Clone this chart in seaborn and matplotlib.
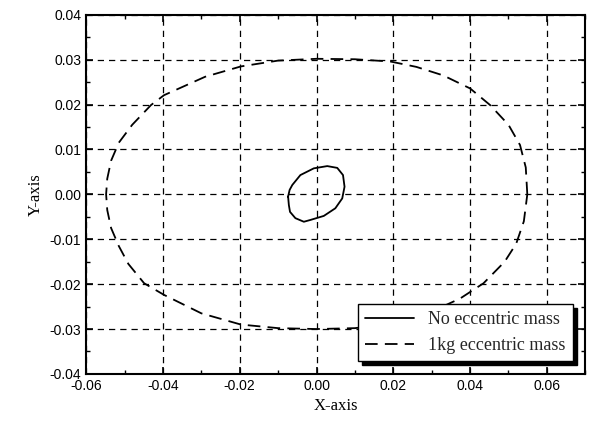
"""Orbit plot: rotor centre trajectory with and without eccentric mass."""

import matplotlib.pyplot as plt
import pandas as pd
import seaborn as sns
from matplotlib.ticker import MultipleLocator

# Small orbit (no eccentric mass)
no_mass_x = [-0.0074, -0.0070, -0.0063, -0.0042, -0.0007, 0.0028, 0.0054, 0.0069, 0.0073,
             0.0067, 0.0049, 0.0019, -0.0016, -0.0033, -0.0055, -0.0069, -0.0072, -0.0074]
no_mass_y = [-0.0005, 0.0010, 0.0021, 0.0043, 0.0058, 0.0063, 0.0059, 0.0043, 0.0017,
             -0.0009, -0.0031, -0.0048, -0.0057, -0.0061, -0.0053, -0.0039, -0.0024, -0.0005]

# Large orbit (1 kg eccentric mass)
mass_x = [0.0549, 0.0545, 0.0530, 0.0500, 0.0452, 0.0400, 0.0330, 0.0260, 0.0192,
          0.0100, 0.0000, -0.0100, -0.0197, -0.0290, -0.0397, -0.0431, -0.0480,
          -0.0515, -0.0535, -0.0545, -0.0548, -0.0545, -0.0535, -0.0515, -0.0490,
          -0.0449, -0.0397, -0.0300, -0.0197, -0.0100, 0.0000, 0.0100, 0.0200,
          0.0290, 0.0374, 0.0435, 0.0490, 0.0520, 0.0540, 0.0549]
mass_y = [0.0000, 0.0060, 0.0110, 0.0155, 0.0199, 0.0236, 0.0265, 0.0284, 0.0296,
          0.0301, 0.0302, 0.0298, 0.0285, 0.0262, 0.0221, 0.0199, 0.0155,
          0.0115, 0.0075, 0.0035, 0.0000, -0.0035, -0.0075, -0.0115, -0.0155,
          -0.0198, -0.0224, -0.0265, -0.0290, -0.0298, -0.0300, -0.0298, -0.0288,
          -0.0265, -0.0232, -0.0198, -0.0150, -0.0110, -0.0060, 0.0000]

x_ticks = [-0.06, -0.04, -0.02, 0.00, 0.02, 0.04, 0.06]
y_ticks = [-0.04, -0.03, -0.02, -0.01, 0.00, 0.01, 0.02, 0.03, 0.04]

sns.set_theme(style="ticks")
plt.rcParams["font.family"] = ["Liberation Sans", "DejaVu Sans"]
plt.rcParams["xtick.direction"] = "in"
plt.rcParams["ytick.direction"] = "in"

df_small = pd.DataFrame({"x": no_mass_x, "y": no_mass_y})
df_big = pd.DataFrame({"x": mass_x, "y": mass_y})

fig = plt.figure(figsize=(5.9, 4.23), dpi=100)
ax = fig.add_axes([0.146, 0.116, 0.846, 0.849])

sns.lineplot(data=df_small, x="x", y="y", sort=False, estimator=None, ax=ax,
             color="black", linewidth=1.3, label="No eccentric mass")
sns.lineplot(data=df_big, x="x", y="y", sort=False, estimator=None, ax=ax,
             color="black", linewidth=1.3, label="1kg eccentric mass")
ax.lines[1].set_dashes((7, 4))

ax.set_xlim(-0.06, 0.07)
ax.set_ylim(-0.04, 0.04)
ax.set_xticks(x_ticks)
ax.set_yticks(y_ticks)
ax.set_xticklabels([f"{v:.2f}" for v in x_ticks])
ax.set_yticklabels([f"{v:.2f}" for v in y_ticks])
ax.xaxis.set_minor_locator(MultipleLocator(0.01))
ax.yaxis.set_minor_locator(MultipleLocator(0.005))
ax.tick_params(which="both", top=True, right=True, colors="black", labelsize=10)
ax.tick_params(which="major", length=5, width=1.2)
ax.tick_params(which="minor", length=3, width=1.0)

ax.grid(True, which="major", color="black", linestyle=(0, (5, 4)), linewidth=0.9)
for s in ax.spines.values():
    s.set_color("black")
    s.set_linewidth(1.5)

ax.set_xlabel("X-axis", family="Liberation Serif", fontsize=12, color="black")
ax.set_ylabel("Y-axis", family="Liberation Serif", fontsize=12, color="black")

leg = ax.legend(loc="lower right", frameon=True, fancybox=False,
                shadow={"color": "black", "alpha": 1, "ox": 3, "oy": -3},
                prop={"family": "Liberation Serif", "size": 13},
                handlelength=2.7, borderaxespad=0.7, framealpha=1)
leg.get_frame().set_edgecolor("black")
leg.get_frame().set_linewidth(1.0)
leg.get_lines()[1].set_dashes((7, 4))

fig.savefig("out.png", dpi=100)
